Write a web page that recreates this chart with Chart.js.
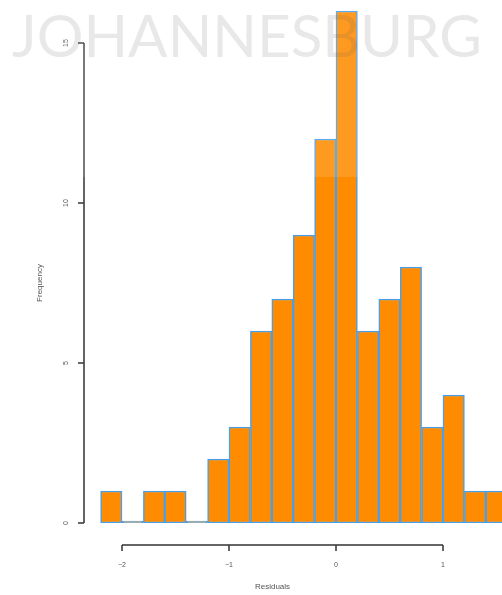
<!DOCTYPE html>
<html>
<head>
<meta charset="utf-8">
<script src="https://cdn.jsdelivr.net/npm/chart.js@4/dist/chart.umd.min.js"></script>
<style>
  html, body { margin: 0; padding: 0; background: #ffffff; overflow: hidden; }
  #wrap { width: 502px; height: 595px; }
</style>
</head>
<body>
<div id="wrap"><canvas id="hist" width="502" height="595"></canvas></div>
<script>
// Histogram of residuals, bins of width 0.2
const binCenters = [-2.1, -1.9, -1.7, -1.5, -1.3, -1.1, -0.9, -0.7, -0.5, -0.3, -0.1,
                    0.1, 0.3, 0.5, 0.7, 0.9, 1.1, 1.3, 1.5];
const binCounts  = [1, 0, 1, 1, 0, 2, 3, 6, 7, 9, 12, 16, 6, 7, 8, 3, 4, 1, 1];
const xTicks = [-2, -1, 0, 1];
const yTicks = [0, 5, 10, 15];
const xTitle = 'Residuals';
const yTitle = 'Frequency';
const watermark = 'JOHANNESBURG';

const axisColor = '#333333';
const textColor = '#555555';

// R-style axes: lines span only the tick range, labels drawn beside them
const baseAxes = {
  id: 'baseAxes',
  afterDatasetsDraw(chart) {
    const ctx = chart.ctx;
    const xs = chart.scales.x, ys = chart.scales.y;
    const area = chart.chartArea;
    ctx.save();
    ctx.strokeStyle = axisColor;
    ctx.lineWidth = 1.5;
    ctx.fillStyle = textColor;

    // x axis
    const xAxisY = area.bottom + 22;
    const x0 = xs.getPixelForValue(xTicks[0]);
    const x1 = xs.getPixelForValue(xTicks[xTicks.length - 1]);
    ctx.beginPath();
    ctx.moveTo(x0, xAxisY); ctx.lineTo(x1, xAxisY);
    xTicks.forEach(v => {
      const px = xs.getPixelForValue(v);
      ctx.moveTo(px, xAxisY); ctx.lineTo(px, xAxisY + 6);
    });
    ctx.stroke();
    ctx.font = '7px "Liberation Sans", Arial, sans-serif';
    ctx.textAlign = 'center';
    ctx.textBaseline = 'middle';
    xTicks.forEach(v => {
      const px = xs.getPixelForValue(v);
      ctx.fillText(v < 0 ? '\u2212' + Math.abs(v) : String(v), px, xAxisY + 20);
    });
    ctx.font = '8px "Liberation Sans", Arial, sans-serif';
    ctx.fillText(xTitle, (x0 + x1) / 2 - 10, xAxisY + 42);

    // y axis
    const yAxisX = area.left;
    const yb = ys.getPixelForValue(yTicks[0]);
    const yt = ys.getPixelForValue(yTicks[yTicks.length - 1]);
    ctx.beginPath();
    ctx.moveTo(yAxisX, yb); ctx.lineTo(yAxisX, yt);
    yTicks.forEach(v => {
      const py = ys.getPixelForValue(v);
      ctx.moveTo(yAxisX, py); ctx.lineTo(yAxisX - 6, py);
    });
    ctx.stroke();
    ctx.font = '7px "Liberation Sans", Arial, sans-serif';
    yTicks.forEach(v => {
      const py = ys.getPixelForValue(v);
      ctx.save();
      ctx.translate(yAxisX - 18, py);
      ctx.rotate(-Math.PI / 2);
      ctx.fillText(String(v), 0, 0);
      ctx.restore();
    });
    ctx.save();
    ctx.font = '8px "Liberation Sans", Arial, sans-serif';
    ctx.translate(yAxisX - 44, (yb + yt) / 2);
    ctx.rotate(-Math.PI / 2);
    ctx.fillText(yTitle, 0, 0);
    ctx.restore();
    ctx.restore();
  }
};

// Light banner across the top with the city name
const banner = {
  id: 'banner',
  afterDraw(chart) {
    const ctx = chart.ctx;
    const w = chart.width;
    ctx.save();
    ctx.fillStyle = 'rgba(255,255,255,0.13)';
    ctx.fillRect(0, 0, w, 177);
    ctx.font = '400 58px Lato, "Open Sans", sans-serif';
    ctx.textBaseline = 'alphabetic';
    ctx.textAlign = 'left';
    const tw = ctx.measureText(watermark).width;
    const target = 470;
    ctx.translate(12, 57);
    ctx.scale(target / tw, 1);
    ctx.fillStyle = 'rgba(90,90,90,0.14)';
    ctx.fillText(watermark, 0, 0);
    ctx.restore();
  }
};

const pxPerUnit = 107;
const xMin = -2 - 38 / pxPerUnit;
const xMax = xMin + 418 / pxPerUnit;

new Chart(document.getElementById('hist'), {
  type: 'bar',
  data: {
    datasets: [{
      data: binCenters.map((c, i) => ({ x: c, y: binCounts[i] })),
      backgroundColor: '#ff8c00',
      borderColor: '#4a9fea',
      borderWidth: 1.5,
      borderSkipped: false,
      minBarLength: 2,
      barPercentage: 1,
      categoryPercentage: 1
    }]
  },
  options: {
    responsive: false,
    animation: false,
    events: [],
    layout: { padding: { left: 84, top: 2, right: 0, bottom: 72 } },
    plugins: { legend: { display: false }, tooltip: { enabled: false } },
    scales: {
      x: { type: 'linear', offset: false, min: xMin, max: xMax, display: false },
      y: { min: 0, max: 521 / 32, display: false }
    }
  },
  plugins: [baseAxes, banner]
});
</script>
</body>
</html>
